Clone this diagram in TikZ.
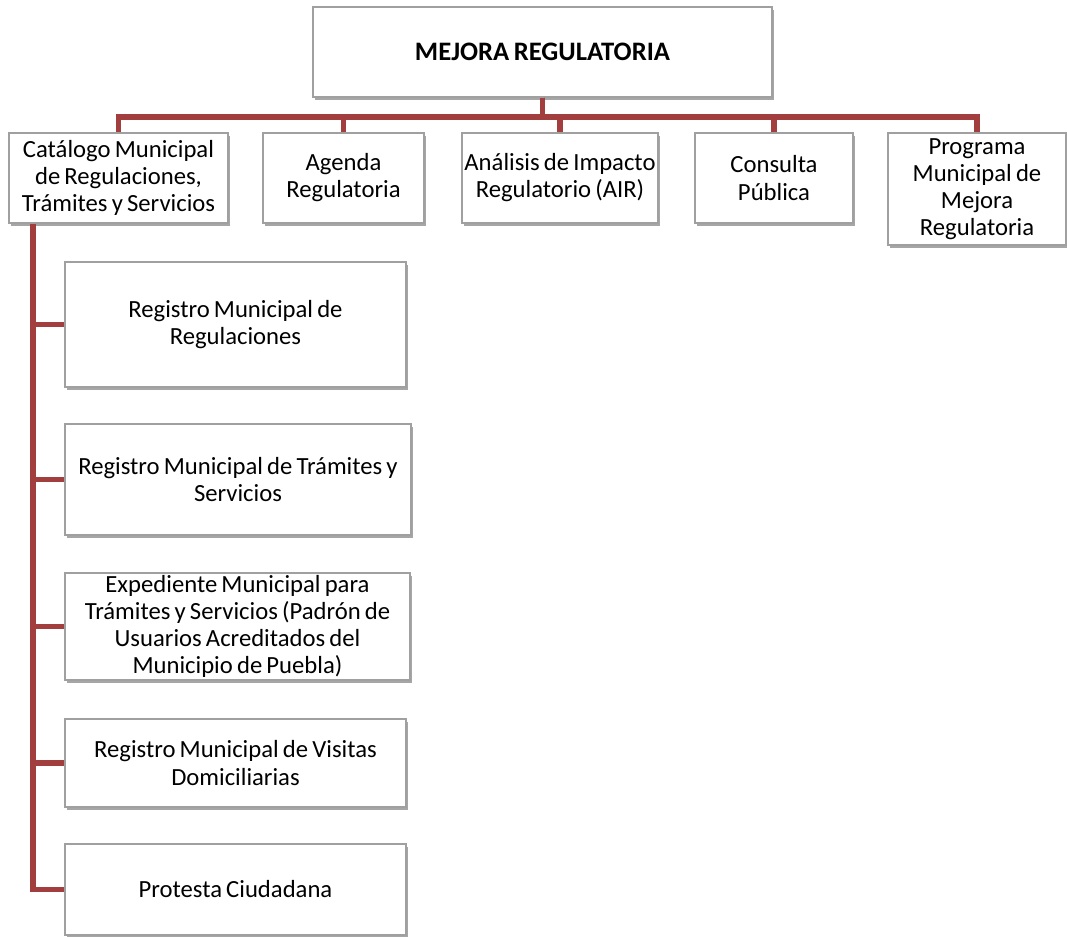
\documentclass[tikz,border=0pt]{standalone}
\usepackage{fontspec}
\setmainfont[WordSpace=0.75]{Carlito}
\usetikzlibrary{shadows}
\definecolor{conncol}{RGB}{162,62,62}
\definecolor{boxline}{RGB}{160,160,160}
\tikzset{
  box/.style={draw=boxline, fill=white, line width=0.8pt, align=center, inner sep=1pt,
    font=\fontsize{18.5}{20.3}\selectfont,
    drop shadow={shadow xshift=1.5pt, shadow yshift=-2pt, opacity=0.35, fill=black}},
  conn/.style={draw=conncol, line width=4pt, line join=miter}
}
\begin{document}
\begin{tikzpicture}[x=0.75pt,y=-0.75pt]
\useasboundingbox (0,0) rectangle (1067,936);
% nodes
\node[box, minimum width=344.25pt, minimum height=67.5pt, font=\fontsize{20}{24}\selectfont\bfseries] (top) at (542.5,52) {MEJORA REGULATORIA};
\node[box, minimum width=164.25pt, minimum height=67.5pt] (cat) at (118.5,178) {Catálogo Municipal\\de Regulaciones,\\Trámites y Servicios};
\node[box, minimum width=120.75pt, minimum height=67.5pt] (age) at (343.5,178) {Agenda\\Regulatoria};
\node[box, minimum width=147pt, minimum height=67.5pt] (air) at (560,178) {Análisis de Impacto\\Regulatorio (AIR)};
\node[box, minimum width=118.5pt, minimum height=67.5pt] (con) at (774,178) {Consulta\\Pública};
\node[box, minimum width=133.5pt, minimum height=84pt] (pro) at (977,189) {Programa\\Municipal de\\Mejora\\Regulatoria};
\node[box, minimum width=255.75pt, minimum height=93.75pt] (s1) at (235.5,324.5) {Registro Municipal de\\Regulaciones};
\node[box, minimum width=259.5pt, minimum height=83.25pt] (s2) at (238,479.5) {Registro Municipal de Trámites y\\Servicios};
\node[box, minimum width=258.75pt, minimum height=80.25pt] (s3) at (237.5,626.5) {Expediente Municipal para\\Trámites y Servicios (Padrón de\\Usuarios Acreditados del\\Municipio de Puebla)};
\node[box, minimum width=255.75pt, minimum height=66pt] (s4) at (235.5,763) {Registro Municipal de Visitas\\Domiciliarias};
\node[box, minimum width=255.75pt, minimum height=68.25pt] (s5) at (235.5,889.5) {Protesta Ciudadana};
% connectors
\coordinate (bus) at (542.5,117);
\coordinate (spine) at (33,0);
\foreach \c in {cat,age,air,con,pro}{
  \draw[conn] (top.south) -- (top.south |- bus) -| (\c.north);
}
\draw[conn] (cat.south -| spine) |- (s5.west);
\foreach \s in {s1,s2,s3,s4}{
  \draw[conn] (\s.west -| spine) -- (\s.west);
}
\end{tikzpicture}
\end{document}
